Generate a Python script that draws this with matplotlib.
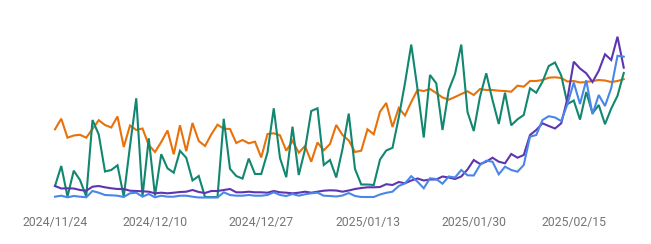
import matplotlib
matplotlib.use("Agg")
import matplotlib.pyplot as plt
import matplotlib.dates as mdates
import numpy as np
import pandas as pd

dates = pd.date_range("2024-11-24", "2025-02-23", freq="D")

# pixel-row readings converted to values (0 = baseline)
orange_y = [129.3, 118.7, 137.7, 135.5, 134.8, 137.7, 129, 120.2, 125, 127.5, 116.5, 147, 125.5, 130, 128.5,
            145, 152, 142, 130.5, 154.3, 125.3, 151.2, 123, 141, 146, 134.5, 124.7, 128.7, 129, 143, 140,
            143.3, 141.7, 157.5, 134, 133.3, 135.3, 150.7, 140.8, 152.7, 146, 161.7, 142.5, 150.3, 144, 125,
            135, 140.5, 152, 150.7, 129.3, 134.3, 111.7, 103, 127, 108, 115.5, 102, 90, 91, 89, 93, 97.5,
            99.7, 97, 94, 91.3, 95, 89, 90, 90, 90.7, 91, 91.7, 85.7, 86.7, 81, 81, 80, 77.7, 77.3, 78,
            81.5, 81, 82.5, 82, 81, 80, 80.5, 82, 81, 79.2]
green_y = [186, 166, 196.5, 170.7, 180, 196.5, 120, 134.5, 171.5, 170, 165.3, 196.5, 146, 98.3, 196.5,
           138.3, 195.5, 154.2, 168.3, 172.7, 150.8, 157.8, 180.5, 176, 197, 197, 197, 118.8, 168.8, 176,
           178.6, 158.6, 174, 174, 152.5, 108.3, 158, 177.2, 126.7, 175, 149.5, 111, 108.3, 165, 160, 177.5,
           149, 113.6, 169, 184.5, 184.5, 185, 159.6, 150.5, 147.8, 117.5, 83, 44.6, 89, 137.5, 75, 83.3,
           130, 90, 74, 44.6, 112, 131, 96.7, 73.3, 100, 124, 92.7, 125.3, 119.3, 115, 88.3, 92.7, 81.7,
           66, 62.5, 75.5, 104, 100.5, 119.6, 92, 113.3, 105, 124.2, 108.5, 95.8, 73]
purple_y = [186, 188.5, 188.3, 188.5, 190, 190.7, 186.7, 186, 187.3, 188.3, 189, 189, 190.7, 191, 191.3,
            191.7, 193.3, 192.7, 193.3, 192.7, 192, 191.7, 190, 192, 193, 191, 191, 190, 189, 192.3, 192.3,
            191.7, 192.3, 192.3, 192.7, 191, 192.3, 192.7, 193.3, 192.7, 191.7, 192.7, 191.7, 190.7, 190.3,
            190.5, 191.7, 190.5, 189, 188, 187.3, 187.3, 187, 184.2, 185, 182, 183.3, 180.5, 178.5, 180.5,
            179.5, 179.5, 176.5, 177.5, 179, 176.5, 169.5, 160, 164, 161.7, 157.7, 161.7, 163.3, 154, 157.7,
            155, 135, 130, 123.3, 126, 128.5, 123.3, 98.3, 61.7, 68.5, 73.3, 82, 70.8, 54.3, 60, 36.7, 67.7]
blue_y = [196.7, 195.7, 197.3, 196, 196.7, 197.3, 191, 192.7, 195, 195.3, 195.7, 197, 193.3, 192.7, 196.7,
          194, 197.3, 195.7, 196.7, 196.7, 195.7, 195.7, 196.7, 197.5, 197.5, 197.5, 197.5, 192.3, 195,
          195.7, 195.7, 195, 195.7, 195.7, 195, 192.3, 195, 196, 194, 195.7, 194.3, 193.3, 192.7, 195.7,
          196, 196.5, 195.5, 193, 196, 197, 197, 197, 194.5, 192.8, 191.7, 186, 183.3, 176.2, 181.7, 188.3,
          178.3, 179, 183.7, 176.5, 177.5, 170, 175.3, 175.5, 165, 160.7, 161.7, 174.3, 166.7, 170, 171.7,
          165, 136.7, 135, 120, 116.2, 117.5, 121, 104, 82.5, 104, 80.3, 114.2, 95, 106, 88, 55.8, 56.7]

BASE = 197.5
orange = np.round(BASE - np.array(orange_y), 1)
green = np.round(BASE - np.array(green_y), 1)
purple = np.round(BASE - np.array(purple_y), 1)
blue = np.round(BASE - np.array(blue_y), 1)

tick_dates = pd.to_datetime(["2024-11-24", "2024-12-10", "2024-12-27", "2025-01-13", "2025-01-30", "2025-02-15"])
tick_labels = ["2024/11/24", "2024/12/10", "2024/12/27", "2025/01/13", "2025/01/30", "2025/02/15"]

W, H = 651, 244
fig = plt.figure(figsize=(W / 100, H / 100), dpi=100)
left = 55 / W
right = 623.75 / W
bottom = (H - BASE) / H
top = (H - 27.5) / H
ax = fig.add_axes([left, bottom, right - left, top - bottom])

lw = 1.5
ax.plot(dates, orange, color="#E8710A", lw=lw, solid_joinstyle="miter", clip_on=False)
ax.plot(dates, green, color="#12876F", lw=lw, solid_joinstyle="miter", clip_on=False)
ax.plot(dates, purple, color="#5E35B1", lw=lw, solid_joinstyle="miter", clip_on=False)
ax.plot(dates, blue, color="#4A86E8", lw=lw, solid_joinstyle="miter", clip_on=False)

ax.set_xlim(dates[0], dates[-1])
ax.set_ylim(0, 170)
ax.set_xticks(tick_dates)
ax.set_xticklabels(tick_labels, fontsize=8.8, color="#757575", family=["Roboto", "DejaVu Sans"])
ax.tick_params(axis="x", length=0, pad=13)
ax.set_yticks([])
for s in ax.spines.values():
    s.set_visible(False)
ax.set_facecolor("none")

fig.savefig("out.png", dpi=100)
